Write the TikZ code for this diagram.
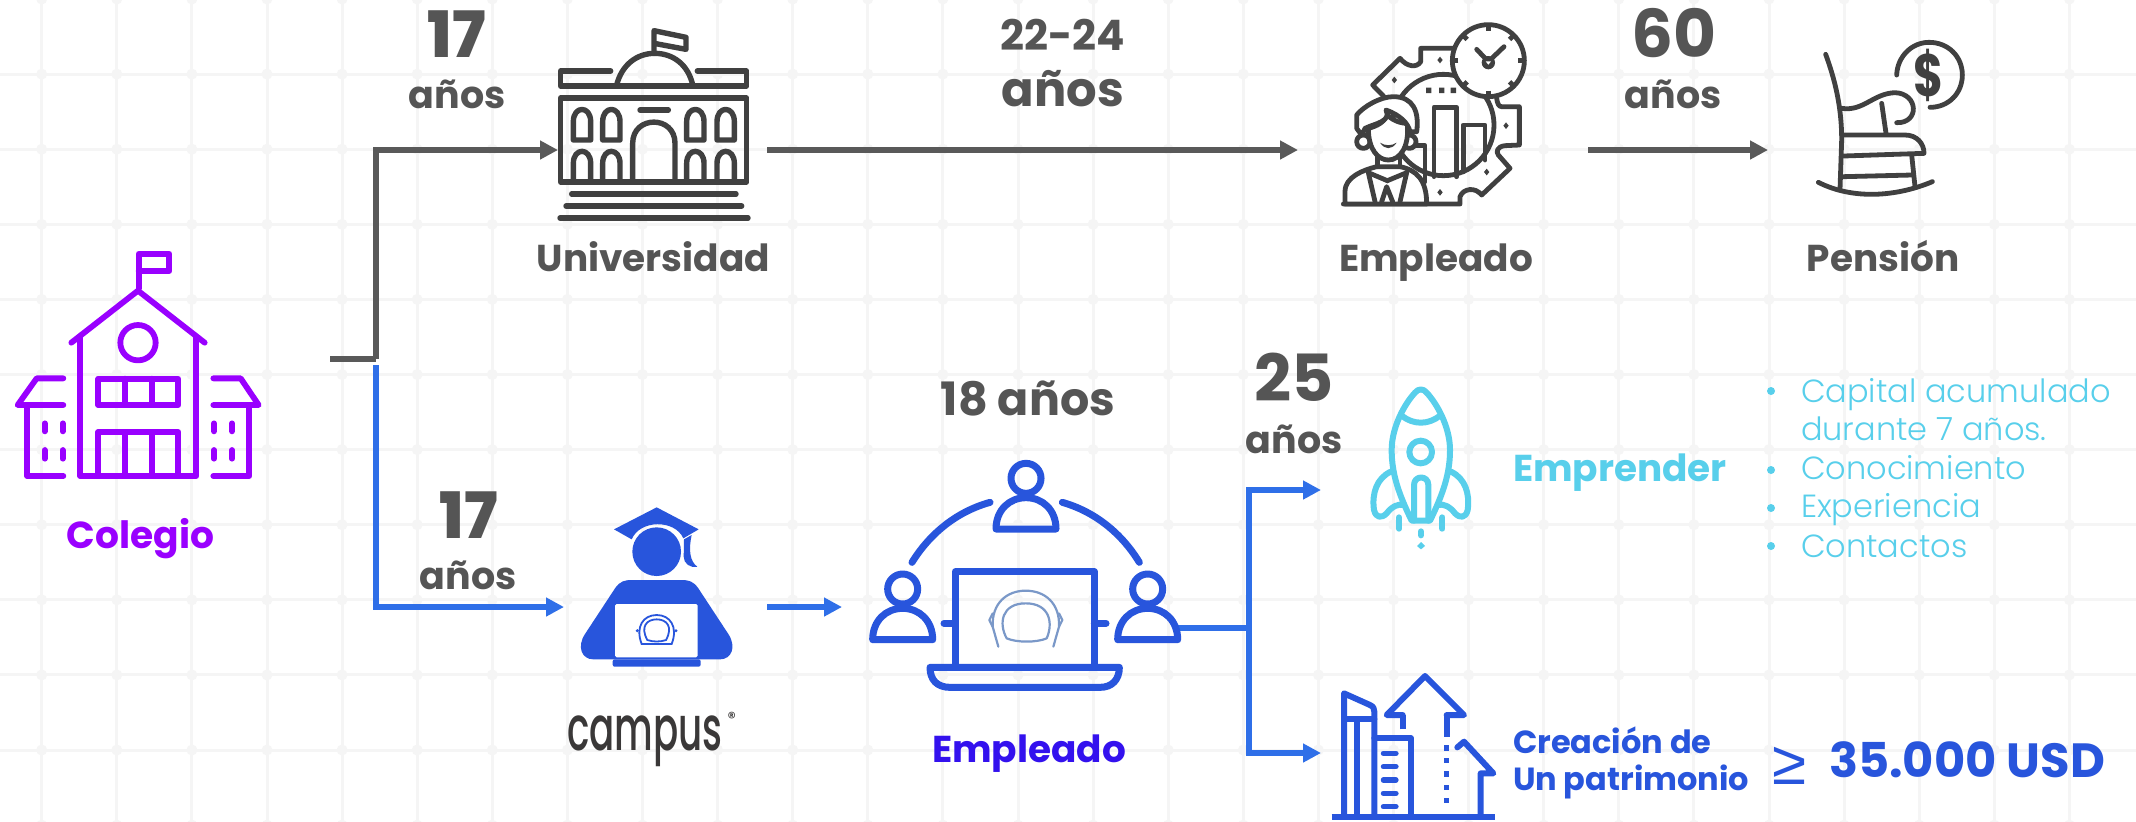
\documentclass[tikz,border=0pt]{standalone}
\usepackage{fontspec}
\usetikzlibrary{arrows.meta}
\setmainfont{Poppins}
\newfontfamily\pxb{Poppins ExtraBold}
\newfontfamily\pbd{Poppins Bold}
\newfontfamily\psb{Poppins SemiBold}
\newfontfamily\plt{Poppins Light}
\newfontfamily\pmd{Poppins Medium}
\newfontfamily\lib{Liberation Sans}
\definecolor{gridc}{HTML}{F5F5F5}
\definecolor{gline}{HTML}{595959}
\definecolor{gicon}{HTML}{404040}
\definecolor{gtext}{HTML}{555555}
\definecolor{purp}{HTML}{9900FF}
\definecolor{bline}{HTML}{2F6FE8}
\definecolor{bicon}{HTML}{2855DC}
\definecolor{bdeep}{HTML}{3311EE}
\definecolor{cyanc}{HTML}{58CFEB}
\definecolor{helm}{HTML}{7A98C8}
\definecolor{logoc}{HTML}{3A3838}
\newcommand{\fsz}[1]{\fontsize{#1}{#1}\selectfont}
\newcommand{\persona}[2]{%
  \draw (#1,#2) circle (45);
  \draw (#1-90,#2+152) .. controls (#1-90,#2+95) and (#1-50,#2+58) .. (#1,#2+58)
        .. controls (#1+50,#2+58) and (#1+90,#2+95) .. (#1+90,#2+152) -- cycle;}
\tikzset{
  zoomed/.style={x=0.166667pt,y=-0.166667pt},
  anchorbox/.style={inner sep=0pt,outer sep=0pt,minimum height=10pt},
  txt/.style={inner sep=0pt,outer sep=0pt,anchor=base},
  txtl/.style={inner sep=0pt,outer sep=0pt,anchor=base west},
  grayflow/.style={gline,line width=3pt,-{Triangle[length=9pt,width=9pt]}},
  blueflow/.style={bline,line width=3pt,-{Triangle[length=9pt,width=9pt]}},
  icn/.style={line join=round,line cap=round},
}
\begin{document}
\begin{tikzpicture}[x=0.5pt,y=-0.5pt]
\useasboundingbox[fill=white] (0,0) rectangle (2136,821);
% grid
\begin{scope}
\foreach \k in {0,...,27}{\draw[gridc,line width=1.5pt] ({41.7+75.1*\k},0) -- ({41.7+75.1*\k},821);}
\foreach \j in {1,...,10}{\draw[gridc,line width=1.5pt] (0,{-1+75.1*\j}) -- (2136,{-1+75.1*\j});}
\foreach \k in {0,...,27}{\foreach \j in {0,...,11}{\fill[gridc] ({41.7+75.1*\k},{-1+75.1*\j}) circle (5.5);}}
\end{scope}
% anchors for connectors
\node[anchorbox,minimum width=165pt] (col) at (165,359) {};
\node[anchorbox,minimum width=104.5pt] (uni) at (662.5,150) {};
\node[anchorbox,minimum width=145pt] (emp) at (1443,150) {};
\node[anchorbox,minimum width=100pt] (pen) at (1868,150) {};
\node[anchorbox,minimum width=101.5pt] (cam) at (665.5,607) {};
\node[anchorbox,minimum width=168pt] (team) at (1010,628) {};
\node[anchorbox,minimum width=60pt] (rocket) at (1381,490) {};
\node[anchorbox,minimum width=60pt] (patri) at (1381,753) {};
\coordinate (fork) at (376,359);
\coordinate (forkb) at (376,365);
\coordinate (split) at (1249,628);
% connectors
\draw[gline,line width=3pt] (col.east) -- (fork);
\draw[grayflow] (fork) |- (uni.west);
\draw[grayflow] (uni.east) -- (emp.west);
\draw[grayflow] (emp.east) -- (pen.west);
\draw[blueflow] (forkb) |- (cam.west);
\draw[blueflow] (cam.east) -- (cam.east -| team.west);
\draw[bline,line width=3pt] (team.east) -- (split);
\draw[blueflow] (split) |- (rocket.west);
\draw[blueflow] (split) |- (patri.west);
% Colegio icon
\begin{scope}[shift={(0,220)},zoomed,purp,line width=2.9pt,icn]
\draw (416,205) -- (416,101) -- (508,101) -- (508,153) -- (416,153);
\draw (214,368) -- (414,212) -- (614,368);
\draw (241,352) -- (241,768) -- (589,768) -- (589,352);
\draw (414,368) circle (53);
\draw (295,476) rectangle (535,555);
\draw (375,476) -- (375,555) (455,476) -- (455,555);
\draw (295,768) -- (295,636) -- (535,636) -- (535,768);
\draw (375,636) -- (375,768) (455,636) -- (455,768);
\draw (190,475) -- (110,475) -- (53,555) -- (190,555);
\draw (82,555) -- (82,768) -- (190,768);
\draw (640,475) -- (722,475) -- (776,555) -- (640,555);
\draw (748,555) -- (748,768) -- (640,768);
\foreach \x in {134,188,642,696}{\draw (\x,610) -- (\x,634) (\x,690) -- (\x,716);}
\end{scope}
% Universidad icon
\begin{scope}[shift={(380,0)},zoomed,gicon,line width=2.7pt,icn]
\draw (692,213) -- (542,213) -- (542,258) -- (1100,258) -- (1100,213) -- (952,213);
\draw (710,255) .. controls (725,195) and (770,160) .. (824,160) .. controls (880,160) and (925,195) .. (938,255);
\draw (822,160) -- (822,92) -- (918,112) -- (918,148) -- (822,130);
\draw (542,294) rectangle (1100,546);
\foreach \x in {580,668,920,1011}{
  \draw (\x,420) -- (\x,365) .. controls (\x,316) and (\x+52,316) .. (\x+52,365) -- (\x+52,420) -- cycle;
  \draw (\x,540) -- (\x,490) .. controls (\x,442) and (\x+52,442) .. (\x+52,490) -- (\x+52,540);}
\draw (758,546) -- (758,430) .. controls (758,345) and (885,345) .. (885,430) -- (885,546);
\draw (780,330) -- (865,330);
\draw (575,582) -- (1068,582) (558,618) -- (1085,618) (540,654) -- (1104,654);
\end{scope}
% Empleado (gear) icon
\begin{scope}[shift={(1300,0)},zoomed,gicon,line width=2.4pt,icn]
\draw (252,290) -- (218,255) -- (300,175) .. controls (320,200) and (350,205) .. (362,185) -- (362,145) -- (460,145);
\draw (590,295) .. controls (592,310) and (596,320) .. (605,320) -- (658,320) -- (658,435) -- (615,437) .. controls (590,440) and (588,455) .. (595,465) -- (630,505) -- (545,585) .. controls (525,560) and (490,565) .. (480,590) -- (480,612) -- (130,612);
\draw (430,375) circle (152);
\draw (402,530) -- (402,322) -- (470,322) -- (470,530);
\draw (490,515) -- (490,375) -- (555,375) -- (555,480);
\draw (330,437) -- (375,437) -- (375,545);
\fill (378,263) rectangle (394,279) (417,263) rectangle (433,279) (452,263) rectangle (468,279);
\foreach \p in {(420,180),(283,240),(618,377),(560,516),(420,577)}{\fill \p +(0,-10) -- +(8,0) -- +(0,10) -- +(-8,0) -- cycle;}
% person
\filldraw[fill=white] (135,612) -- (135,575) .. controls (135,530) and (190,510) .. (230,500) -- (300,500) .. controls (350,510) and (380,540) .. (380,612) -- cycle;
\filldraw[fill=white] (190,425) circle (20) (328,425) circle (20);
\filldraw[fill=white] (205,385) .. controls (205,450) and (235,480) .. (265,480) .. controls (300,480) and (328,440) .. (322,375) -- (322,370) .. controls (290,370) and (260,350) .. (258,335) .. controls (265,365) and (225,380) .. (205,385) -- cycle;
\filldraw[fill=white] (185,405) -- (170,385) -- (170,345) .. controls (190,320) and (240,290) .. (280,290) .. controls (340,290) and (358,335) .. (350,395) -- (330,395) .. controls (325,370) and (300,345) .. (258,330) .. controls (275,365) and (225,370) .. (195,385) -- cycle;
\fill (240,428) .. controls (255,450) and (275,450) .. (290,428) .. controls (275,438) and (255,438) .. (240,428) -- cycle;
\draw (232,470) -- (232,500) (300,465) -- (300,500);
\draw (205,518) -- (262,542) -- (320,518);
\draw (205,518) -- (225,605) (320,518) -- (300,605);
\draw (245,605) -- (260,560) -- (278,605);
\fill (262,542) +(-12,0) -- +(0,-8) -- +(12,0) -- +(0,8) -- cycle;
% clock
\filldraw[fill=white] (565,182) circle (108);
\foreach \a in {0,45,...,315}{\draw[line cap=butt] ({565+90*cos(\a)},{182+90*sin(\a)}) -- ({565+106*cos(\a)},{182+106*sin(\a)});}
\draw (530,148) -- (565,185) -- (612,140);
\fill (565,188) circle (20);
\fill[white] (565,186) +(-8,-2) -- +(8,-2) -- +(0,8) -- cycle;
\end{scope}
% Pension icon
\begin{scope}[shift={(1780,0)},zoomed,gicon,line width=2.4pt,icn]
\draw (137,163) .. controls (165,240) and (185,320) .. (185,420) -- (180,568);
\draw (185,325) .. controls (250,335) and (280,280) .. (345,278) .. controls (415,280) and (420,370) .. (350,368);
\draw (305,310) -- (318,400);
\draw (190,405) -- (375,405) .. controls (410,405) and (432,430) .. (432,460) -- (190,468);
\draw (395,465) -- (405,560);
\draw (190,530) -- (395,525);
\draw (115,547) .. controls (220,600) and (350,590) .. (457,545);
\draw (350,225) .. controls (352,170) and (395,127) .. (447,127) .. controls (505,127) and (547,170) .. (547,225) .. controls (547,280) and (505,322) .. (450,322);
\node[inner sep=0pt,gicon,font=\pbd\fsz{23},yscale=1.3] (dollar) at (447,225) {\$};
\end{scope}
% Campus icon
\begin{scope}[shift={(540,480)},zoomed,bicon]
\fill (222,148) -- (350,82) -- (476,148) -- (430,175) .. controls (405,118) and (300,118) .. (275,178) -- cycle;
\fill (350,215) circle (73);
\fill (432,178) -- (455,165) .. controls (445,210) and (450,245) .. (472,260) .. controls (450,265) and (431,250) .. (431,230) -- cycle;
\fill (160,538) .. controls (125,538) and (110,500) .. (135,462) -- (225,325) .. controls (240,303) and (255,300) .. (275,300) -- (425,300) .. controls (445,300) and (460,303) .. (475,325) -- (565,462) .. controls (590,500) and (575,538) .. (540,538) -- cycle;
\fill[rounded corners=1pt] (218,538) -- (482,538) -- (482,560) -- (218,560) -- cycle;
\fill[white,rounded corners=0.8pt] (225,372) rectangle (473,532);
\draw[line width=0.9pt] (305,492) .. controls (285,440) and (310,405) .. (350,405) .. controls (390,405) and (415,440) .. (395,492) -- cycle;
\draw[line width=0.9pt] (322,480) .. controls (300,440) and (320,418) .. (350,418) .. controls (380,418) and (400,440) .. (378,480) .. controls (360,486) and (340,486) .. (322,480) -- cycle;
\fill (292,452) circle (5) (408,452) circle (5);
\end{scope}
% Team icon
\begin{scope}[shift={(850,450)},zoomed,bicon,line width=3.5pt,icn]
\persona{528}{85}
\persona{158}{417}
\persona{893}{417}
\draw (186,337) .. controls (240,250) and (320,185) .. (420,157);
\draw (637,157) .. controls (735,185) and (815,250) .. (868,337);
\draw (316,645) -- (316,365) -- (733,365) -- (733,645);
\draw (282,520) -- (316,520) (733,520) -- (768,520);
\draw (240,652) -- (808,652) .. controls (808,690) and (785,712) .. (750,712) -- (300,712) .. controls (262,712) and (240,690) .. (240,652) -- cycle;
\draw[helm,line width=1.1pt] (445,590) -- (428,530) .. controls (425,460) and (470,422) .. (527,422) .. controls (585,422) and (630,460) .. (627,530) -- (610,590);
\draw[helm,line width=1.1pt] (470,565) .. controls (445,520) and (455,460) .. (527,460) .. controls (600,460) and (610,520) .. (590,565) .. controls (560,578) and (500,578) .. (470,565) -- cycle;
\draw[helm,line width=1.1pt] (428,490) -- (418,510) -- (428,530) (627,490) -- (637,510) -- (627,530);
\end{scope}
% Rocket icon
\begin{scope}[shift={(1340,370)},zoomed,cyanc,line width=3pt,icn]
\draw (215,452) .. controls (175,370) and (155,310) .. (155,240) .. controls (155,170) and (195,100) .. (225,68) .. controls (235,55) and (250,55) .. (260,68) .. controls (290,100) and (330,170) .. (330,240) .. controls (330,310) and (310,370) .. (270,452) -- cycle;
\draw (185,137) .. controls (220,165) and (265,165) .. (300,137);
\draw (242,246) circle (34);
\draw (222,452) -- (222,345) .. controls (222,315) and (265,315) .. (265,345) -- (265,452);
\draw (152,305) .. controls (110,325) and (95,370) .. (102,420) .. controls (108,445) and (125,445) .. (140,430) .. controls (155,410) and (175,400) .. (190,405);
\draw (333,305) .. controls (375,325) and (390,370) .. (383,420) .. controls (377,445) and (360,445) .. (345,430) .. controls (330,410) and (310,400) .. (295,405);
\draw (177,442) -- (177,476) (307,442) -- (307,476);
\draw (243,484) -- (243,496);
\fill (243,516) -- (255,528) -- (243,538) -- (231,528) -- cycle;
\end{scope}
% Patrimonio icon
\begin{scope}[shift={(1320,660)},zoomed,bicon,line width=3pt,icn]
\draw[line cap=butt] (35,472) -- (525,472);
\draw (72,465) -- (72,100) -- (150,135) .. controls (160,140) and (163,145) .. (163,155) -- (163,465);
\draw (72,178) -- (163,178);
\draw (110,178) -- (110,465);
\draw (163,235) -- (273,235) -- (273,465);
\foreach \y in {280,320,360,400,440}{\draw[line width=2.6pt] (190,\y) -- (228,\y);}
\draw[line cap=butt] (248,208) -- (248,165);
\draw (248,165) -- (200,165) -- (315,48) -- (432,165) -- (380,165);
\draw[line cap=butt] (380,165) -- (380,232);
\foreach \y in {264,302,342,382,422}{\fill (373,\y-8) rectangle (387,\y+8);}
\draw (412,262) -- (432,245) -- (520,340) -- (482,340) -- (482,465);
\end{scope}
% Text labels
\node[txt,purp,font=\pbd\fsz{18.8}] (tcol) at (140.5,548) {Colegio};
\node[txt,gtext,font=\pxb\fsz{32}] (n17a) at (457,57) {17};
\node[txt,gtext,font=\pbd\fsz{19}] (a17a) at (457,108) {años};
\node[txt,gtext,font=\pbd\fsz{18.7}] (tuni) at (653.5,271) {Universidad};
\node[txt,gtext,font=\pbd\fsz{21}] (n22) at (1063,50) {22-24};
\node[txt,gtext,font=\pbd\fsz{24}] (a22) at (1063,106) {años};
\node[txt,gtext,font=\pbd\fsz{33}] (n60) at (1674,57) {60};
\node[txt,gtext,font=\pbd\fsz{19}] (a60) at (1673,108) {años};
\node[txt,gtext,font=\pbd\fsz{18.7}] (temp) at (1436,271) {Empleado};
\node[txt,gtext,font=\pbd\fsz{18.7}] (tpen) at (1883,271) {Pensión};
\node[txt,gtext,font=\pxb\fsz{32}] (n17b) at (469,538) {17};
\node[txt,gtext,font=\pbd\fsz{19}] (a17b) at (468,589) {años};
\node[txt,logoc,font=\pmd\fsz{31},xscale=0.6] (tcam) at (645,750) {campus};
\node[txt,logoc,font=\pmd\fsz{8}] (treg) at (731.7,723) {®};
\node[txt,gtext,font=\pbd\fsz{23}] (n18) at (1028,415) {18 años};
\node[txt,bdeep,font=\pbd\fsz{18.7}] (tteam) at (1029,762) {Empleado};
\node[txt,gtext,font=\pbd\fsz{32.5}] (n25) at (1294,401) {25};
\node[txt,gtext,font=\pbd\fsz{19}] (a25) at (1294,453) {años};
\node[txtl,cyanc,font=\pbd\fsz{18.7}] (temprender) at (1513,481) {Emprender};
\foreach \nm/\yy/\tx in {l1/402/Capital acumulado,l2/440/durante 7 años.,l3/479/Conocimiento,l4/517/Experiencia,l5/557/Contactos}{
  \node[txtl,cyanc,font=\plt\fsz{16}] (\nm) at (1801,\yy) {\tx};}
\foreach \yy in {391,470,508,546}{\fill[cyanc] (1771,\yy) circle (4);}
\node[txtl,bicon,font=\pbd\fsz{16}] (tcre) at (1513,753) {Creación de};
\node[txtl,bicon,font=\pbd\fsz{16}] (tpat) at (1513,790) {Un patrimonio};
\node[txt,bicon,font=\lib\fsz{31}] (tge) at (1789,784) {≥};
\node[txtl,bicon,font=\pbd\fsz{24}] (tusd) at (1829,777) {35.000 USD};
\end{tikzpicture}
\end{document}
